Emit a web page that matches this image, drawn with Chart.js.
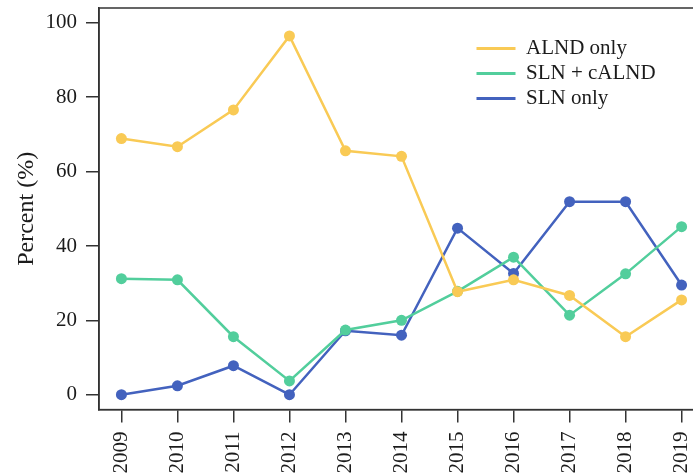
<!DOCTYPE html>
<html>
<head>
<meta charset="utf-8">
<script src="https://cdn.jsdelivr.net/npm/chart.js@4"></script>
<style>
  html,body{margin:0;padding:0;background:#fff;overflow:hidden;}
  #wrap{width:720px;height:474px;}
</style>
</head>
<body>
<div id="wrap"><canvas id="c" width="720" height="474"></canvas></div>
<script>
/* ===== 資料 ===== */
const YEARS = [2009,2010,2011,2012,2013,2014,2015,2016,2017,2018,2019];
const ALND_ONLY = [68.9,66.7,76.6,96.5,65.6,64.1,27.7,30.9,26.7,15.6,25.5];
const SLN_CALND = [31.2,30.9,15.6,3.7,17.4,20.0,27.8,37.0,21.4,32.5,45.2];
const SLN_ONLY  = [0,2.4,7.8,0,17.2,16.0,44.8,32.6,51.9,51.9,29.5];
const Y_TICKS = [0,20,40,60,80,100];

const NAMES = ['ALND only','SLN + cALND','SLN only'];
const COLORS = ['#F9CA55','#52CE9C','#4362BE'];
const FONT = '"Liberation Serif","Times New Roman",serif';
const INK = '#1b1b1b', AXIS = '#333';

const pts = arr => arr.map((v,i)=>({x:YEARS[i], y:v}));
const mk = (label,data,color)=>({
  label, data:pts(data),
  borderColor:color, backgroundColor:color, borderWidth:2.5,
  pointRadius:5.5, pointHoverRadius:5.5, pointBackgroundColor:color, pointBorderWidth:0,
  tension:0
});

// 外框（上/右）
const boxPlugin = {
  id:'box',
  beforeDatasetsDraw(c){
    const a=c.chartArea, ctx=c.ctx;
    ctx.save(); ctx.strokeStyle=AXIS; ctx.lineWidth=1.5;
    ctx.strokeRect(a.left, a.top, a.right-a.left, a.bottom-a.top);
    ctx.restore();
  }
};
// 圖例放在圖內右上
const legendPos = {
  id:'legendPos',
  afterLayout(c){
    const lg=c.legend; if(!lg) return;
    lg.left=472.5; lg.top=34; lg.right=lg.left+230; lg.bottom=lg.top+200;
    lg.width=230; lg.height=200;
  }
};

new Chart(document.getElementById('c'),{
  type:'line',
  data:{ datasets:[
    mk(NAMES[0],ALND_ONLY,COLORS[0]),
    mk(NAMES[1],SLN_CALND,COLORS[1]),
    mk(NAMES[2],SLN_ONLY,COLORS[2])
  ]},
  options:{
    responsive:false, animation:false, devicePixelRatio:1,
    layout:{padding:{left:0,top:8,right:16,bottom:0}},
    plugins:{
      tooltip:{enabled:false},
      legend:{
        position:'chartArea', align:'start',
        labels:{
          font:{family:FONT,size:21}, color:INK,
          boxWidth:39, boxHeight:3, padding:4,
          generateLabels:c=>Chart.defaults.plugins.legend.labels.generateLabels(c).map(l=>({...l,lineWidth:0}))
        }
      }
    },
    scales:{
      x:{
        type:'linear', min:2008.6, max:2019.4,
        afterFit:s=>{ s.height=64.4; s.paddingLeft=0; s.paddingRight=0; },
        grid:{display:true, drawOnChartArea:false, drawTicks:true, tickLength:13, color:AXIS, lineWidth:1.5},
        border:{display:true, color:AXIS, width:1.5},
        ticks:{
          stepSize:1, includeBounds:false, autoSkip:false,
          minRotation:90, maxRotation:90, padding:9,
          color:INK, font:{family:FONT,size:21},
          callback:v=>YEARS.includes(v)?String(v):''
        }
      },
      y:{
        min:-4, max:104,
        afterFit:s=>{ s.width=99; s.paddingTop=0; s.paddingBottom=0; },
        grid:{display:true, drawOnChartArea:false, drawTicks:true, tickLength:13, color:AXIS, lineWidth:1.5},
        border:{display:true, color:AXIS, width:1.5},
        ticks:{
          stepSize:20, includeBounds:false, padding:9,
          color:INK, font:{family:FONT,size:21},
          callback:v=>Y_TICKS.includes(v)?String(v):''
        },
        title:{display:true, text:'Percent (%)', color:INK, font:{family:FONT,size:24}, padding:{top:12,bottom:0}}
      }
    }
  },
  plugins:[boxPlugin, legendPos]
});
</script>
</body>
</html>
